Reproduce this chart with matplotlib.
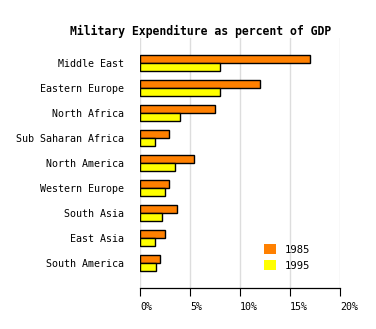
import matplotlib
matplotlib.use("Agg")
import matplotlib.pyplot as plt
from matplotlib.patches import Patch
import numpy as np

# Military spending as share of GDP by region
regions = ["Middle East", "Eastern Europe", "North Africa", "Sub Saharan Africa",
           "North America", "Western Europe", "South Asia", "East Asia", "South America"]
pct_1985 = [17.0, 12.0, 7.5, 2.9, 5.4, 2.9, 3.7, 2.5, 2.0]
pct_1995 = [8.0, 8.0, 4.0, 1.5, 3.5, 2.5, 2.2, 1.5, 1.6]
ticks = [0, 5, 10, 15, 20]
tick_labels = ["0%", "5%", "10%", "15%", "20%"]

plt.rcParams["font.family"] = "DejaVu Sans Mono"

fig = plt.figure(figsize=(3.76, 3.29), dpi=100)
ax = fig.add_axes([140 / 376, 41 / 329, 200 / 376, 250 / 329])

y = np.arange(len(regions))
h = 0.32
ax.barh(y - h / 2, pct_1985, height=h, color="#ff8000", edgecolor="black", linewidth=1.0, zorder=3)
ax.barh(y + h / 2, pct_1995, height=h, color="#ffff00", edgecolor="black", linewidth=1.0, zorder=3)

ax.set_xlim(0, 20)
ax.set_ylim(len(regions), -1)
ax.set_yticks(y)
ax.set_yticklabels(regions, fontsize=7.2)
ax.tick_params(axis="y", length=0, pad=11.5)

ax.set_xticks(ticks)
ax.set_xticklabels(tick_labels, fontsize=7.2, ha="left")
ax.tick_params(axis="x", direction="out", length=6, width=0.8, pad=4)

ax.grid(axis="x", color="#dddddd", linewidth=1, zorder=0)
for side in ["top", "right", "left"]:
    ax.spines[side].set_visible(False)
ax.spines["bottom"].set_linewidth(0.9)

handles = [Patch(facecolor="#ff8000", edgecolor="none", label="1985"),
           Patch(facecolor="#ffff00", edgecolor="none", label="1995")]
ax.legend(handles=handles, loc="upper left", bbox_to_anchor=(0.595, 0.198),
          frameon=False, fontsize=7.6, handlelength=1.15, handleheight=1.15,
          handletextpad=0.75, labelspacing=0.5, borderpad=0)

fig.text(200.5 / 376, 1 - 31.5 / 329, "Military Expenditure as percent of GDP",
         ha="center", va="center", fontsize=8.3, fontweight="bold")

fig.savefig("out.png", dpi=100)
